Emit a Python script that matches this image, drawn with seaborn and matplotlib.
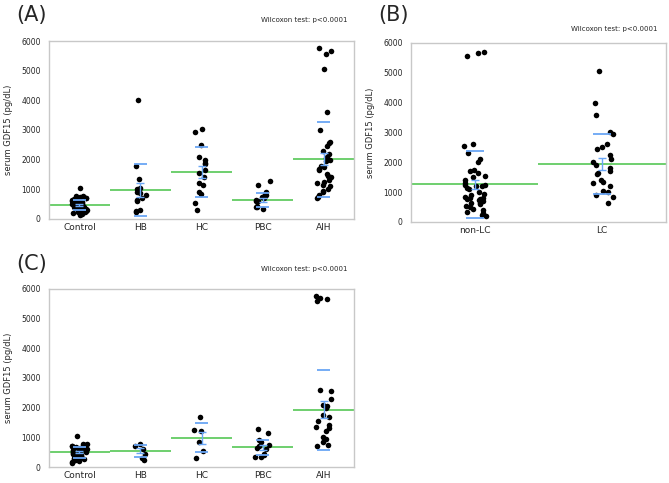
import numpy as np
import pandas as pd
import seaborn as sns
import matplotlib.pyplot as plt
from matplotlib.ticker import MultipleLocator, FixedLocator

np.random.seed(3)

# ---- panel A / C categories
groups = ['Control', 'HB', 'HC', 'PBC', 'AIH']

control = [1030, 780, 760, 740, 720, 700, 690, 670, 650, 630, 610, 600, 580, 570,
           550, 540, 520, 500, 490, 470, 460, 450, 440, 420, 400, 390, 380, 360,
           340, 320, 300, 280, 260, 240, 220, 200, 170, 150]
a_hb = [4000, 1800, 1350, 1050, 1000, 900, 870, 820, 700, 650, 600, 300, 280, 250]
a_hc = [3020, 2930, 2480, 2100, 2000, 1900, 1850, 1650, 1550, 1400, 1200, 1150,
        900, 850, 550, 300]
a_pbc = [1270, 1150, 900, 850, 800, 750, 700, 650, 620, 600, 450, 420, 400, 350]
a_aih = [5750, 5650, 5550, 5050, 3600, 3000, 2600, 2550, 2450, 2300, 2200, 2100,
         2050, 2000, 1950, 1800, 1750, 1700, 1650, 1500, 1450, 1400, 1300, 1250,
         1200, 1150, 1100, 1000, 950, 900, 800, 750, 700]
a_mean = [480, 970, 1580, 640, 2010]
a_sd = [170, 870, 840, 240, 1260]
a_se = [30, 230, 210, 65, 200]

c_hb = [780, 700, 600, 450, 300, 250]
c_hc = [1680, 1250, 1200, 850, 550, 320]
c_pbc = [1270, 1150, 900, 850, 750, 700, 650, 600, 450, 400, 350, 350]
c_aih = [5750, 5700, 5650, 5600, 2600, 2550, 2300, 2100, 2050, 2000, 1750, 1700,
         1550, 1400, 1350, 1300, 1200, 1000, 950, 850, 750, 700]
c_mean = [500, 550, 980, 660, 1930]
c_sd = [180, 200, 490, 250, 1340]
c_se = [30, 85, 200, 70, 290]

# ---- panel B
lc_groups = ['non-LC', 'LC']
non_lc = [5700, 5650, 5550, 2600, 2550, 2300, 2100, 2000, 1750, 1700, 1650, 1550,
          1500, 1400, 1300, 1250, 1250, 1200, 1200, 1150, 1100, 1000, 950, 900,
          850, 800, 800, 780, 760, 750, 700, 650, 620, 600, 550, 500, 450, 400,
          350, 300, 250, 200]
lc = [5050, 4000, 3600, 3000, 2950, 2600, 2500, 2450, 2250, 2100, 2000, 1900,
      1800, 1700, 1650, 1600, 1400, 1350, 1300, 1200, 1050, 1000, 900, 850, 650]
b_mean = [1270, 1950]
b_sd = [1120, 1010]
b_se = [150, 200]

GREEN = '#62cc62'
BLUE = '#6aa6f5'
FRAME = '#c8c8c8'


def make_df(names, values):
    rows = []
    for n, v in zip(names, values):
        rows += [(n, x) for x in v]
    return pd.DataFrame(rows, columns=['group', 'value'])


def oneway(ax, df, names, mean, sd, se, jitter, sdw, sew):
    sns.stripplot(data=df, x='group', y='value', order=names, ax=ax,
                  color='black', size=4, jitter=jitter, linewidth=0, zorder=3)
    for i in range(len(names)):
        ax.hlines(mean[i], i - 0.5, i + 0.5, color=GREEN, lw=1.3, zorder=2)
        ax.hlines([mean[i] + sd[i], mean[i] - sd[i]], i - sdw, i + sdw,
                  color=BLUE, lw=1.3, zorder=4)
        ax.errorbar(i, mean[i], yerr=se[i], color=BLUE, lw=1, capsize=sew,
                    capthick=1, zorder=4)
    ax.set_xlim(-0.5, len(names) - 0.5)
    ax.set_ylim(0, 6000)
    ax.set_xlabel('')
    ax.set_ylabel('serum GDF15 (pg/dL)', fontsize=6, labelpad=6)
    ax.yaxis.set_major_locator(MultipleLocator(1000))
    ax.yaxis.set_minor_locator(MultipleLocator(500))
    ax.xaxis.set_minor_locator(FixedLocator(np.arange(0.5, len(names) - 0.5, 1)))
    ax.tick_params(axis='y', which='major', labelsize=5.5, length=4,
                   color=FRAME, pad=2)
    ax.tick_params(axis='y', which='minor', length=2, color=FRAME)
    ax.tick_params(axis='x', which='major', labelsize=6.5, length=0, pad=3)
    ax.tick_params(axis='x', which='minor', length=4, color=FRAME)
    for s in ax.spines.values():
        s.set_color(FRAME)
        s.set_linewidth(1)
    ax.set_facecolor('white')


sns.set_theme(style='white')
plt.rcParams['font.family'] = ['DejaVu Sans']

fig = plt.figure(figsize=(6.69, 4.83), dpi=100)
ax_a = fig.add_axes([0.0732, 0.5466, 0.456, 0.3685])
ax_b = fig.add_axes([0.6143, 0.5404, 0.381, 0.3706])
ax_c = fig.add_axes([0.0732, 0.0331, 0.456, 0.3686])

oneway(ax_a, make_df(groups, [control, a_hb, a_hc, a_pbc, a_aih]), groups,
       a_mean, a_sd, a_se, 0.13, 0.1, 3)
oneway(ax_b, make_df(lc_groups, [non_lc, lc]), lc_groups,
       b_mean, b_sd, b_se, 0.09, 0.07, 3)
oneway(ax_c, make_df(groups, [control, c_hb, c_hc, c_pbc, c_aih]), groups,
       c_mean, c_sd, c_se, 0.13, 0.1, 3)

ax_a.text(0.977, 1.118, 'Wilcoxon test: p<0.0001', transform=ax_a.transAxes,
          ha='right', va='center', fontsize=5)
ax_b.text(0.969, 1.078, 'Wilcoxon test: p<0.0001', transform=ax_b.transAxes,
          ha='right', va='center', fontsize=5)
ax_c.text(0.977, 1.11, 'Wilcoxon test: p<0.0001', transform=ax_c.transAxes,
          ha='right', va='center', fontsize=5)

fig.text(0.025, 0.99, '(A)', fontsize=15, va='top')
fig.text(0.565, 0.99, '(B)', fontsize=15, va='top')
fig.text(0.025, 0.475, '(C)', fontsize=15, va='top')

fig.savefig('out.png', dpi=100, facecolor='white')
